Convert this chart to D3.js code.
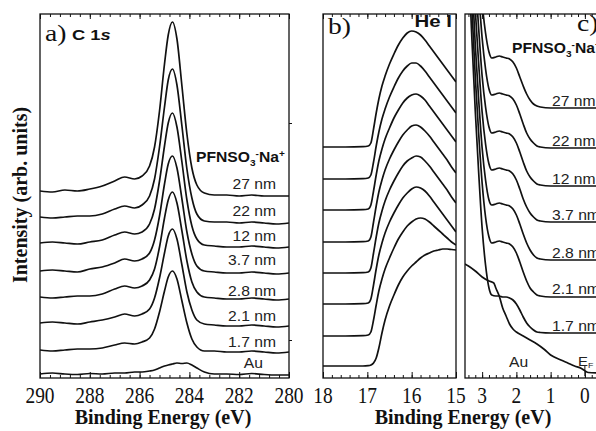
<!DOCTYPE html>
<html><head><meta charset="utf-8">
<script src="https://cdn.jsdelivr.net/npm/d3@7"></script>
<style>
html,body{margin:0;padding:0;background:#fff;}
svg{display:block;}
.serif{font-family:"Liberation Serif","Times New Roman",serif;}
.sans{font-family:"Liberation Sans",Arial,sans-serif;}
</style></head>
<body>
<svg id="chart" width="596" height="431"></svg>
<script>
// ---------- DATA ----------
const seriesLabels = ["27 nm","22 nm","12 nm","3.7 nm","2.8 nm","2.1 nm","1.7 nm","Au"];

// Panel a) C 1s  (binding energy, eV) — intensity in arb. units (stacked as drawn)
const energiesA = [290,289.5,289,288.5,288,287.5,287,286.6,286.2,285.9,285.6,285.4,285.2,285.0,284.85,284.68,284.5,284.3,284.1,283.9,283.7,283.4,283.0,282.5,282,281.5,281,280.5,280];
const a27 = [187,186,188,187,189,192,197,201,199,202,212,231,267,314,343,356,339,292,244,210,193,185,183,183,182,183,182,182,182];
const a22 = [161,160,161,162,162,164,169,172,170,173,182,199,231,271,298,309,293,252,209,180,164,157,156,156,155,156,155,154,155];
const a12 = [135,136,135,134,136,138,143,146,144,146,154,169,197,232,255,265,251,216,178,152,139,133,132,131,131,132,131,130,131];
const a37 = [107,108,107,106,109,111,115,119,117,119,125,138,162,194,214,222,210,179,146,124,112,107,106,105,105,106,105,104,105];
const a28 = [81,80,81,82,82,84,89,92,90,92,98,109,131,160,178,186,175,147,117,96,86,81,80,79,79,80,79,78,79];
const a21 = [55,56,55,54,56,58,61,64,62,64,69,80,100,125,142,149,139,113,86,68,58,54,53,52,52,53,52,51,52];
const a17 = [28,27,28,29,29,30,33,35,34,36,40,49,66,87,101,107,99,77,55,39,31,27,27,26,26,27,26,25,26];
const aAu = [4,5,4,3.5,4.5,4,5,5,6,6,7,8,10,12,13,14,15,14.5,15,13,10,6,4,4,3.5,4.5,3.5,3,3];
const ticksA = [290,288,286,284,282,280];

// Panel b) He I cutoff region
const energiesB = [18,17.5,17.1,16.98,16.92,16.86,16.8,16.74,16.67,16.6,16.5,16.4,16.3,16.2,16.1,16.0,15.9,15.8,15.7,15.6,15.5,15.4,15.3,15.2,15.1,15.0];
const offsetsB = [231,199,168,136,105,74,42,12];
const b27 = [0,0,0.3,1,4,18,34,48,61,71,83,93,102,109,114,116,115,112,107,101,95,89,83,77,71,65];
const b22 = [0,0,0.3,1,4,17,33,47,60,70,82,92,101,108,113,116,116,113,108,102,96,90,84,78,72,66];
const b12 = [0,0,0.3,1,5,19,35,49,61,71,82,92,100,107,112,115,116,114,110,104,98,92,86,80,74,68];
const b37 = [0,0,0.3,1,5,20,36,50,62,72,83,92,100,107,112,116,117,115,111,106,100,94,88,82,75,69];
const b28 = [0,0,0.3,1,5,20,36,50,62,72,83,92,100,107,112,115,117,116,112,107,101,95,89,83,76,70];
const b21 = [0,0,0.3,1,5,19,35,49,61,71,82,91,99,106,111,115,117,116,113,108,102,96,90,84,78,72];
const b17 = [0,0,0.3,1,4,16,31,45,57,67,78,88,97,104,110,114,117,118,117,114,110,106,102,98,94,91];
const bAu = [0,0,0,0.3,1,3,8,18,33,46,60,71,81,89,95,100,104,108,111,113,115,116,117,117,116.5,116];
const ticksB = [18,17,16,15];

// Panel c) valence region near E_F
const energiesC = [3.5,3.4,3.3,3.2,3.1,3.0,2.9,2.8,2.72,2.6,2.5,2.4,2.3,2.2,2.1,2.0,1.9,1.8,1.7,1.6,1.5,1.4,1.3,1.0,0.5,0,-0.5];
const offsetsC = [270,230,192,156,118,81,45];
const c27 = [400,330,260,200,150,105,75,56,50,51,52,51,50,49,46,40,31,22,14,8,4,2,1,0,0,0,0];
const c22 = [420,345,272,208,156,110,79,59,53,54,55,54,53,52,49,43,34,24,15,9,5,2,1,0,0,0,0];
const c12 = [430,350,276,210,157,110,79,59,53,54,55,54,53,52,49,43,34,24,15,9,5,2,1,0,0,0,0];
const c37 = [440,355,280,212,158,110,78,58,52,53,54,53,52,51,48,42,33,23,15,9,5,2,1,0,0,0,0];
const c28 = [450,360,285,215,160,112,80,60,55,56,57,56,55,54,51,45,36,26,17,10,5,2,1,0,0,0,0];
const c21 = [460,370,290,220,163,114,80,60,54,55,56,55,54,53,50,44,35,25,16,9,5,2,1,0,0,0,0];
const c17 = [470,375,295,222,160,105,68,45,38,37,37,36,36,35,33,29,23,16,10,6,3,1,0.5,0,0,0,0];
const energiesAuC = [3.5,3.4,3.2,3.0,2.8,2.66,2.6,2.5,2.4,2.3,2.2,2.1,2.0,1.8,1.6,1.4,1.2,1.0,0.7,0.5,0.3,0.1,0.03,-0.03,-0.1,-0.5];
const cAu = [114,112,107,101,97,95,90,82,70,62,54,49,46,42,38,34,29,23,18,15,12,9.5,8,6.5,5.5,5];
const ticksC = [3,2,1,0];

// ---------- DRAW ----------
const svg = d3.select("#chart");
const yTop = 14, yBot = 378;
const y = d3.scaleLinear().domain([0,364]).range([yBot, yTop]);
const xA = d3.scaleLinear().domain([290,280]).range([40,289]);
const xB = d3.scaleLinear().domain([18,15]).range([323,456]);
const xC = d3.scaleLinear().domain([3.5,-0.5]).range([465,602]);

const defs = svg.append("defs");
function clip(id, x0, x1){
  defs.append("clipPath").attr("id",id).append("rect")
    .attr("x",x0).attr("y",yTop).attr("width",x1-x0).attr("height",yBot-yTop);
}
clip("cA",40,289); clip("cB",323,456); clip("cC",465,602);

function drawCurve(g, x, es, vs, off){
  const pts = es.map((e,i)=>({e, v: vs[i] + (off||0)}));
  g.append("path").datum(pts)
    .attr("fill","none").attr("stroke","#111").attr("stroke-width",1.7)
    .attr("stroke-linejoin","round")
    .attr("d", d3.line().x(d=>x(d.e)).y(d=>y(d.v)).curve(d3.curveMonotoneX));
}

const gA = svg.append("g").attr("clip-path","url(#cA)");
[a27,a22,a12,a37,a28,a21,a17,aAu].forEach(s=>drawCurve(gA,xA,energiesA,s,0));
const gB = svg.append("g").attr("clip-path","url(#cB)");
[b27,b22,b12,b37,b28,b21,b17,bAu].forEach((s,i)=>drawCurve(gB,xB,energiesB,s,offsetsB[i]));
const gC = svg.append("g").attr("clip-path","url(#cC)");
[c27,c22,c12,c37,c28,c21,c17].forEach((s,i)=>drawCurve(gC,xC,energiesC,s,offsetsC[i]));
drawCurve(gC,xC,energiesAuC,cAu,0);

function axes(x, majors, minorStep, lo, hi){
  const minors = d3.range(lo, hi+1e-6, minorStep).map(v=>+v.toFixed(3));
  const add = (axis, yy, size) => svg.append("g").attr("transform",`translate(0,${yy})`)
    .call(axis.tickSize(size).tickFormat(""))
    .call(g=>g.select(".domain").remove())
    .call(g=>g.selectAll(".tick line").attr("stroke","#111").attr("stroke-width",1));
  add(d3.axisBottom(x).tickValues(minors), yBot, -3);
  add(d3.axisBottom(x).tickValues(majors), yBot, -6);
  add(d3.axisTop(x).tickValues(minors), yTop, -3);
  add(d3.axisTop(x).tickValues(majors), yTop, -5);
  majors.forEach(v=>{
    svg.append("text").attr("class","serif")
      .attr("transform",`translate(${x(v)},403) scale(0.97,1.2)`)
      .attr("text-anchor","middle").attr("font-size",20).attr("fill","#111").text(v);
  });
}
axes(xA, ticksA, 0.4, 280, 290);
axes(xB, ticksB, 0.2, 15, 18);
axes(xC, ticksC, 0.2, -0.4, 3.4);

[[40,289],[323,456],[465,602]].forEach(([x0,x1])=>{
  svg.append("rect").attr("x",x0).attr("y",yTop).attr("width",x1-x0).attr("height",yBot-yTop)
    .attr("fill","none").attr("stroke","#111").attr("stroke-width",1.3);
});
svg.append("g").attr("transform","translate(289,0)")
  .call(d3.axisRight(y).tickValues([255,38]).tickSize(3).tickFormat(""))
  .call(g=>g.select(".domain").remove())
  .selectAll("line").attr("stroke","#111");

function txt(cls, x, yb, size, str, opts){
  opts = opts || {};
  const t = svg.append("text").attr("class",cls)
    .attr("transform",`translate(${x},${yb}) scale(${opts.sx||1},1)`)
    .attr("font-size",size).attr("fill",opts.fill||"#111");
  if (opts.anchor) t.attr("text-anchor",opts.anchor);
  if (opts.bold) t.attr("font-weight","bold");
  if (str !== null) t.text(str);
  return t;
}

txt("serif",45,41,23,"a)",{sx:1.2});
const c1s = txt("sans",72,40,15,null,{sx:1.22,bold:true});
c1s.append("tspan").text("C 1");
c1s.append("tspan").attr("font-style","italic").text("s");
txt("serif",328,34,23,"b)",{sx:1.2});
txt("sans",452,27,17,"He I",{sx:1.2,bold:true,anchor:"end"});
txt("serif",577,31,23,"c)",{sx:1.2});

function molLabel(x, yb){
  const t = txt("sans",x,yb,14,null,{sx:1.12,bold:true});
  t.append("tspan").text("PFNSO");
  t.append("tspan").attr("font-size",9).attr("dy",4).text("3");
  t.append("tspan").attr("font-size",9).attr("dy",-9).text("-");
  t.append("tspan").attr("dy",5).text("Na");
  t.append("tspan").attr("font-size",9).attr("dy",-5).text("+");
}
molLabel(196,162);
molLabel(512,53);

const labA = [189,216,241,265,296,321,347];
seriesLabels.slice(0,7).forEach((s,i)=>{
  txt("sans",276,labA[i],14,s,{sx:1.12,anchor:"end",fill:"#222"});
});
txt("sans",263,368,14,seriesLabels[7],{sx:1.12,anchor:"end",fill:"#222"});

const labC = [106,146,184,220,258,294,331];
seriesLabels.slice(0,7).forEach((s,i)=>{
  txt("sans",552,labC[i],14,s,{sx:1.12,fill:"#222"});
});
txt("sans",509,367,14,seriesLabels[7],{sx:1.12,fill:"#222"});
const ef = txt("sans",578,366,13.5,null,{sx:1.1,fill:"#222"});
ef.append("tspan").text("E");
ef.append("tspan").attr("font-size",8).attr("dy",2).text("F");
svg.append("line").attr("x1",xC(0)).attr("x2",xC(0)).attr("y1",366).attr("y2",376).attr("stroke","#111").attr("stroke-width",1);

txt("serif",163,424,20,"Binding Energy (eV)",{bold:true,anchor:"middle"});
txt("serif",463,424,20,"Binding Energy (eV)",{bold:true,anchor:"middle"});
svg.append("text").attr("class","serif").attr("transform","translate(27,195) rotate(-90)")
  .attr("text-anchor","middle").attr("font-size",20).attr("font-weight","bold").attr("fill","#111")
  .text("Intensity (arb. units)");
</script>
</body></html>
